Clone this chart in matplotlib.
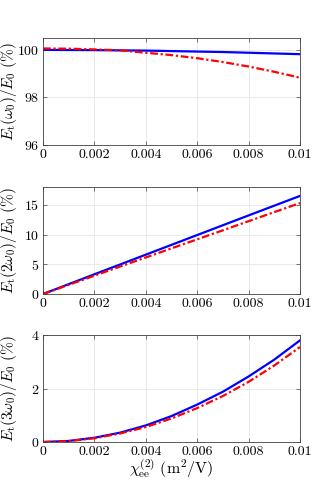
import matplotlib
matplotlib.use("Agg")
import matplotlib.pyplot as plt

plt.rcParams['font.family'] = 'serif'
plt.rcParams['font.serif'] = ['cmr10', 'DejaVu Serif']
plt.rcParams['mathtext.fontset'] = 'cm'
plt.rcParams['axes.formatter.use_mathtext'] = True

chi = [0, 0.001, 0.002, 0.003, 0.004, 0.005, 0.006, 0.007, 0.008, 0.009, 0.01]

w1_blue = [100.0, 99.995, 99.99, 99.98, 99.97, 99.95, 99.93, 99.91, 99.88, 99.85, 99.82]
w1_red = [100.06, 100.05, 100.02, 99.98, 99.88, 99.78, 99.65, 99.49, 99.3, 99.08, 98.83]

w2_blue = [0, 1.66, 3.32, 4.97, 6.62, 8.27, 9.92, 11.57, 13.22, 14.86, 16.5]
w2_red = [0, 1.54, 3.08, 4.62, 6.15, 7.68, 9.2, 10.72, 12.25, 13.78, 15.3]

w3_blue = [0, 0.04, 0.16, 0.35, 0.62, 0.97, 1.4, 1.88, 2.45, 3.08, 3.8]
w3_red = [0, 0.035, 0.14, 0.32, 0.56, 0.88, 1.27, 1.72, 2.25, 2.86, 3.55]

xticks = [0, 0.002, 0.004, 0.006, 0.008, 0.01]
xticklabels = ['0', '0.002', '0.004', '0.006', '0.008', '0.01']

panels = [
    (w1_blue, w1_red, (96, 100.5), [96, 98, 100], r'$E_{\mathrm{t}}(\omega_0)/E_0\ (\%)$'),
    (w2_blue, w2_red, (0, 18), [0, 5, 10, 15], r'$E_{\mathrm{t}}(2\omega_0)/E_0\ (\%)$'),
    (w3_blue, w3_red, (0, 4), [0, 2, 4], r'$E_{\mathrm{t}}(3\omega_0)/E_0\ (\%)$'),
]
bottoms = [0.7088, 0.4096, 0.1124]

fig = plt.figure(figsize=(3.32, 4.98), dpi=100)
for (blue, red, ylim, yticks, ylabel), b in zip(panels, bottoms):
    ax = fig.add_axes([0.1295, b, 0.7741, 0.2149])
    ax.plot(chi, blue, color='blue', lw=1.6)
    ax.plot(chi, red, color='red', lw=1.6, ls='-.', dashes=(3.5, 1.2, 1, 1.2))
    ax.set_xlim(0, 0.01)
    ax.set_ylim(*ylim)
    ax.set_xticks(xticks)
    ax.set_xticklabels(xticklabels)
    ax.set_yticks(yticks)
    ax.grid(True, color='#e6e6e6', lw=0.6)
    ax.set_axisbelow(True)
    ax.tick_params(direction='in', top=True, right=True, labelsize=10,
                   length=3, width=0.5, color='#404040', pad=2.5)
    for s in ax.spines.values():
        s.set_color('#404040')
        s.set_linewidth(0.6)
    ax.set_ylabel(ylabel, fontsize=11, labelpad=0)
    ax.yaxis.set_label_coords(-0.095, 0.5)
    if b == bottoms[-1]:
        ax.set_xlabel(r'$\chi^{(2)}_{\mathrm{ee}}\ (\mathrm{m}^2/\mathrm{V})$', fontsize=11.5, labelpad=0)

fig.savefig('out.png', dpi=100)
